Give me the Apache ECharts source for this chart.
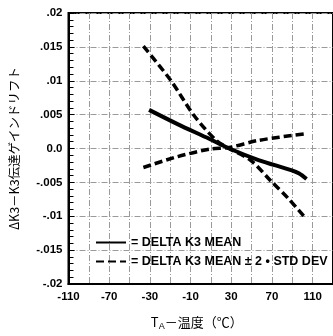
<!DOCTYPE html>
<html>
<head>
<meta charset="utf-8">
<script src="https://cdn.jsdelivr.net/npm/echarts@6/dist/echarts.min.js"></script>
<style>
html,body{margin:0;padding:0;background:#fff;}
#c{width:333px;height:336px;}
</style>
</head>
<body>
<div id="c"></div>
<script>
// x positions are in tick-label units (0 = "-110", 1 = "-70", ... 6 = "110")
const xTickLabels = ['-110', '-70', '-30', '-10', '30', '70', '110'];
const yTickLabels = ['-.02', '-.015', '-.01', '-.005', '0.0', '.005', '.01', '.015', '.02'];

const meanX = [1.98, 2.68, 3.47, 3.95, 4.67, 5.47, 5.67, 5.85];
const meanY = [0.0057, 0.0036, 0.0014, 0.0, -0.0017, -0.0032, -0.0037, -0.0045];

const upperX = [1.84, 2.52, 3.08, 3.63, 3.95, 4.47, 4.99, 5.39, 5.83];
const upperY = [0.0151, 0.0100, 0.0049, 0.0012, 0.0, -0.0017, -0.0049, -0.0073, -0.0103];

const lowerX = [1.84, 2.68, 3.47, 3.95, 4.67, 5.85];
const lowerY = [-0.0028, -0.0012, -0.0001, 0.00015, 0.0012, 0.0022];

const meanName = 'DELTA K3 MEAN';
const devName = 'DELTA K3 MEAN \u00b1 2 \u2022 STD DEV';

function zip(xs, ys) { return xs.map((x, i) => [x, ys[i]]); }

const gridLine = { show: true, lineStyle: { color: '#9a9a9a', width: 1, type: [6, 2, 1, 2] } };
const labelFont = { color: '#000', fontWeight: 'bold', fontSize: 11.5, fontFamily: 'Liberation Sans, Arial, sans-serif' };

const chart = echarts.init(document.getElementById('c'), null, { renderer: 'canvas' });
chart.setOption({
  animation: false,
  backgroundColor: '#fff',
  grid: { left: 68, top: 13, bottom: 50, right: -7, show: true, borderColor: '#000', borderWidth: 2, backgroundColor: 'transparent' },
  xAxis: {
    type: 'value', min: 0, max: 6.5, interval: 0.5,
    axisLine: { show: true, onZero: false, lineStyle: { color: '#000', width: 2 } },
    axisTick: { show: false },
    splitLine: gridLine,
    axisLabel: Object.assign({ margin: 7, showMaxLabel: false,
      formatter: v => (Math.abs(v - Math.round(v)) < 1e-6 ? (xTickLabels[Math.round(v)] || '') : '') }, labelFont),
    name: '{t|T}{s|A}{t|\uff0d\u6e29\u5ea6\uff08\u2103\uff09}',
    nameLocation: 'middle', nameGap: 30,
    nameTextStyle: {
      padding: [0, 8, 0, 0],
      rich: {
        t: { fontSize: 13, color: '#000', fontFamily: 'Noto Sans CJK JP, sans-serif' },
        s: { fontSize: 9, color: '#000', fontFamily: 'Liberation Sans, sans-serif', padding: [8, 0, 0, 0] }
      }
    }
  },
  yAxis: {
    type: 'value', min: -0.02, max: 0.02, interval: 0.005,
    axisLine: { show: true, lineStyle: { color: '#000', width: 2 } },
    axisTick: { show: true, inside: true, length: 6, lineStyle: { color: '#000' } },
    minorTick: { show: true, splitNumber: 5, length: 5, lineStyle: { color: '#000' } },
    splitLine: gridLine,
    axisLabel: Object.assign({ margin: 6,
      formatter: v => yTickLabels[Math.round((v + 0.02) / 0.005)] }, labelFont),
    name: '\u0394K3\uff0dK3\u4f1d\u9054\u30b2\u30a4\u30f3\u30c9\u30ea\u30d5\u30c8',
    nameLocation: 'middle', nameRotate: 90, nameGap: 48,
    nameTextStyle: { fontSize: 12.5, color: '#000', fontFamily: 'Noto Sans CJK JP, sans-serif' }
  },
  legend: {
    orient: 'vertical', left: 95, top: 236, padding: 0,
    itemWidth: 30, itemHeight: 10, itemGap: 6,
    data: [meanName, devName],
    formatter: n => '= ' + n,
    itemStyle: { opacity: 0 },
    textStyle: { color: '#000', fontWeight: 'bold', fontSize: 12.5, fontFamily: 'Liberation Sans, Arial, sans-serif' },
    selectedMode: false
  },
  series: [
    { name: meanName, type: 'line', data: zip(meanX, meanY), symbol: 'none', smooth: 0.3,
      lineStyle: { color: '#000', width: 4 }, itemStyle: { color: '#000' } },
    { name: devName, type: 'line', data: zip(upperX, upperY), symbol: 'none', smooth: 0.3,
      lineStyle: { color: '#000', width: 3.5, type: [8, 4] }, itemStyle: { color: '#000' } },
    { name: devName, type: 'line', data: zip(lowerX, lowerY), symbol: 'none', smooth: 0.3,
      lineStyle: { color: '#000', width: 3.5, type: [8, 4] }, itemStyle: { color: '#000' } }
  ]
});
</script>
</body>
</html>
